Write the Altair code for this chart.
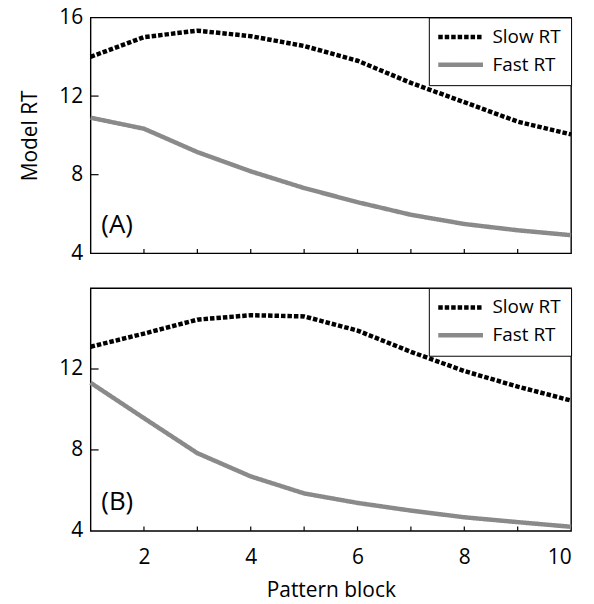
import altair as alt
import pandas as pd

blocks = [1, 2, 3, 4, 5, 6, 7, 8, 9, 10]
a_slow = [14.0, 15.0, 15.33, 15.05, 14.55, 13.8, 12.67, 11.69, 10.7, 10.05]
a_fast = [10.9, 10.34, 9.15, 8.17, 7.32, 6.6, 5.96, 5.49, 5.17, 4.92]
b_slow = [13.1, 13.75, 14.44, 14.66, 14.6, 13.9, 12.85, 11.9, 11.13, 10.44]
b_fast = [11.32, 9.57, 7.84, 6.69, 5.85, 5.38, 5.0, 4.67, 4.43, 4.2]
series_names = ["Slow RT", "Fast RT"]
x_ticks = [2, 3, 4, 5, 6, 7, 8, 9]
y_ticks = [8, 12]
y_labels_a = [4, 8, 12, 16]
y_labels_b = [4, 8, 12]
x_labels = [2, 4, 6, 8, 10]

FONT = "Open Sans"


def panel(slow, fast, tag, ylabels, show_x, ytitle, h):
    df = pd.DataFrame({
        "block": blocks * 2,
        "rt": slow + fast,
        "series": [series_names[0]] * len(blocks) + [series_names[1]] * len(blocks),
    })
    xscale = alt.Scale(domain=[1, 10], nice=False)
    yscale = alt.Scale(domain=[4, 16], nice=False)
    if show_x:
        xaxis = alt.Axis(values=x_labels, format="d", title="Pattern block", ticks=False, tickSize=0,
                         domain=False, grid=False, labelPadding=16, titlePadding=12,
                         labelFontSize=21, titleFontSize=21, titleFontWeight="normal",
                         labelFont=FONT, titleFont=FONT, labelColor="black", titleColor="black")
    else:
        xaxis = None
    yaxis = alt.Axis(values=ylabels, title=ytitle, ticks=False, tickSize=0, domain=False,
                     grid=False, labelPadding=8, titlePadding=18, labelFontSize=21,
                     titleFontSize=21, titleFontWeight="normal", labelFont=FONT,
                     titleFont=FONT, labelColor="black", titleColor="black")
    lines = alt.Chart(df).mark_line(strokeWidth=4.5, strokeCap="butt").encode(
        x=alt.X("block:Q", scale=xscale, axis=xaxis),
        y=alt.Y("rt:Q", scale=yscale, axis=yaxis),
        color=alt.Color("series:N", scale=alt.Scale(domain=series_names, range=["black", "#8a8a8a"]),
                        legend=alt.Legend(title=None)),
        strokeDash=alt.StrokeDash("series:N",
                                  scale=alt.Scale(domain=series_names, range=[[4.5, 2], [1, 0]]),
                                  legend=alt.Legend(title=None)),
    )
    xt = alt.Chart(pd.DataFrame({"t": x_ticks})).mark_rule(color="black", strokeWidth=1.2).encode(
        x=alt.X("t:Q", scale=xscale, axis=xaxis),
        y=alt.datum(4),
        y2=alt.datum(4.22),
    )
    yt = alt.Chart(pd.DataFrame({"t": y_ticks})).mark_rule(color="black", strokeWidth=1.2).encode(
        y=alt.Y("t:Q", scale=yscale, axis=yaxis),
        x=alt.datum(1),
        x2=alt.datum(1.15),
    )
    label = alt.Chart(pd.DataFrame({"tag": [tag]})).mark_text(
        align="left", baseline="alphabetic", fontSize=26, font=FONT, color="black"
    ).encode(
        x=alt.datum(1.2),
        y=alt.datum(5.05),
        text="tag:N",
    )
    return alt.layer(lines, xt, yt, label).properties(width=483, height=h)


top = panel(a_slow, a_fast, "(A)", y_labels_a, False, "Model RT", 237)
bottom = panel(b_slow, b_fast, "(B)", y_labels_b, True, None, 244)

chart = alt.vconcat(top, bottom, spacing=22).resolve_scale(
    color="independent", strokeDash="independent"
).properties(
    padding={"left": 11, "top": -4, "right": 5, "bottom": 0}
).configure_view(
    stroke="black", strokeWidth=1.4
).configure_legend(
    orient="top-right", offset=0, strokeColor="black", fillColor="white", padding=10,
    labelFontSize=19, labelFont=FONT, labelColor="black", symbolType="M-2,0H7",
    symbolStrokeWidth=4.5, symbolSize=100, labelOffset=35, rowPadding=8, cornerRadius=0
)

chart.save("out.html", embed_options={"renderer": "svg", "actions": False})
